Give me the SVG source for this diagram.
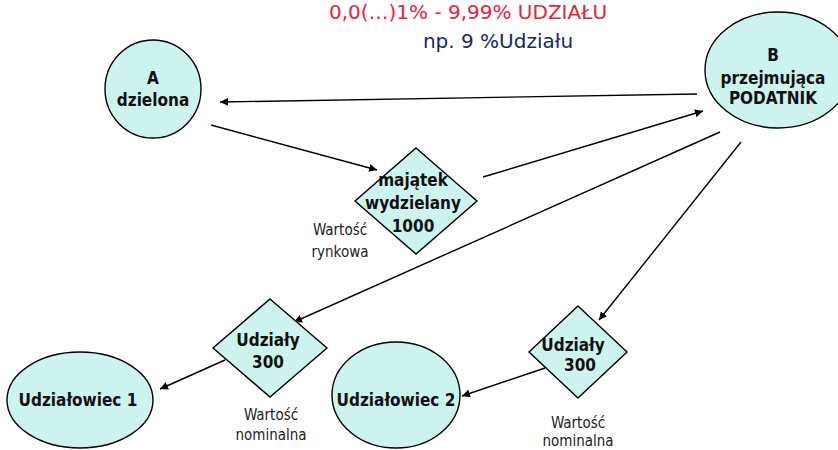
<svg xmlns="http://www.w3.org/2000/svg" width="838" height="450" viewBox="0 0 838 450">
  <style>
    .shape { fill: #cdf3ef; stroke: #000; stroke-width: 1.4; }
    .lbl { font-family: "DejaVu Sans Condensed", "DejaVu Sans", sans-serif; font-stretch: condensed; font-weight: bold; font-size: 17px; fill: #111; text-anchor: middle; }
    .note { font-family: "DejaVu Sans Condensed", "DejaVu Sans", sans-serif; font-stretch: condensed; font-size: 15px; fill: #222; text-anchor: middle; }
    .edge { stroke: #000; stroke-width: 1.4; fill: none; marker-end: url(#arrow); }
    .title { font-family: "DejaVu Sans", sans-serif; font-size: 20px; text-anchor: middle; }
  </style>
  <defs>
    <marker id="arrow" viewBox="0 0 10 10" refX="10" refY="5" markerWidth="8" markerHeight="8" markerUnits="userSpaceOnUse" orient="auto">
      <path d="M0,0 L10,5 L0,10 z" fill="#000"/>
    </marker>
  </defs>

  <rect width="838" height="450" fill="#fff"/>

  <!-- heading -->
  <text class="title" x="468" y="19" fill="#e8213d">0,0(…)1% - 9,99% UDZIAŁU</text>
  <text class="title" x="498" y="48" fill="#14296a" font-size="21">np. 9 %Udziału</text>

  <!-- connectors -->
  <g id="connectors">
    <line class="edge" x1="697" y1="94" x2="220" y2="102"/>
    <line class="edge" x1="211" y1="125" x2="377" y2="170"/>
    <line class="edge" x1="483" y1="177" x2="703" y2="111"/>
    <line class="edge" x1="720" y1="132" x2="294" y2="322"/>
    <line class="edge" x1="741" y1="142" x2="599" y2="320"/>
    <line class="edge" x1="225" y1="360" x2="160" y2="389"/>
    <line class="edge" x1="545" y1="368" x2="462" y2="396"/>
  </g>

  <g id="node-a">
    <ellipse class="shape" cx="153" cy="89" rx="48" ry="49"/>
    <text class="lbl" x="153" y="84">A</text>
    <text class="lbl" x="153" y="106">dzielona</text>
  </g>

  <g id="node-b">
    <ellipse class="shape" cx="778" cy="70" rx="73" ry="58"/>
    <text class="lbl" x="773" y="61">B</text>
    <text class="lbl" x="773" y="84">przejmująca</text>
    <text class="lbl" x="773" y="104">PODATNIK</text>
  </g>

  <g id="node-majatek">
    <polygon class="shape" points="416,148 477,201 416,254 355,201"/>
    <text class="lbl" x="413" y="186">majątek</text>
    <text class="lbl" x="413" y="209">wydzielany</text>
    <text class="lbl" x="413" y="232">1000</text>
  </g>
  <text class="note" x="340" y="235" font-size="16">Wartość</text>
  <text class="note" x="340" y="257" font-size="16">rynkowa</text>

  <g id="node-udzialy-1">
    <polygon class="shape" points="270,299 327,348 270,397 213,348"/>
    <text class="lbl" x="268" y="346">Udziały</text>
    <text class="lbl" x="268" y="368">300</text>
  </g>
  <text class="note" x="271" y="420">Wartość</text>
  <text class="note" x="271" y="440">nominalna</text>

  <g id="node-udzialy-2">
    <polygon class="shape" points="578,306 627,352 578,398 529,352"/>
    <text class="lbl" x="573" y="351">Udziały</text>
    <text class="lbl" x="580" y="371">300</text>
  </g>
  <text class="note" x="578" y="428">Wartość</text>
  <text class="note" x="578" y="446">nominalna</text>

  <g id="node-udzialowiec-1">
    <ellipse class="shape" cx="80" cy="400" rx="73" ry="48"/>
    <text class="lbl" x="78" y="406">Udziałowiec 1</text>
  </g>

  <g id="node-udzialowiec-2">
    <ellipse class="shape" cx="396" cy="395" rx="64" ry="53"/>
    <text class="lbl" x="396" y="406">Udziałowiec 2</text>
  </g>
</svg>
